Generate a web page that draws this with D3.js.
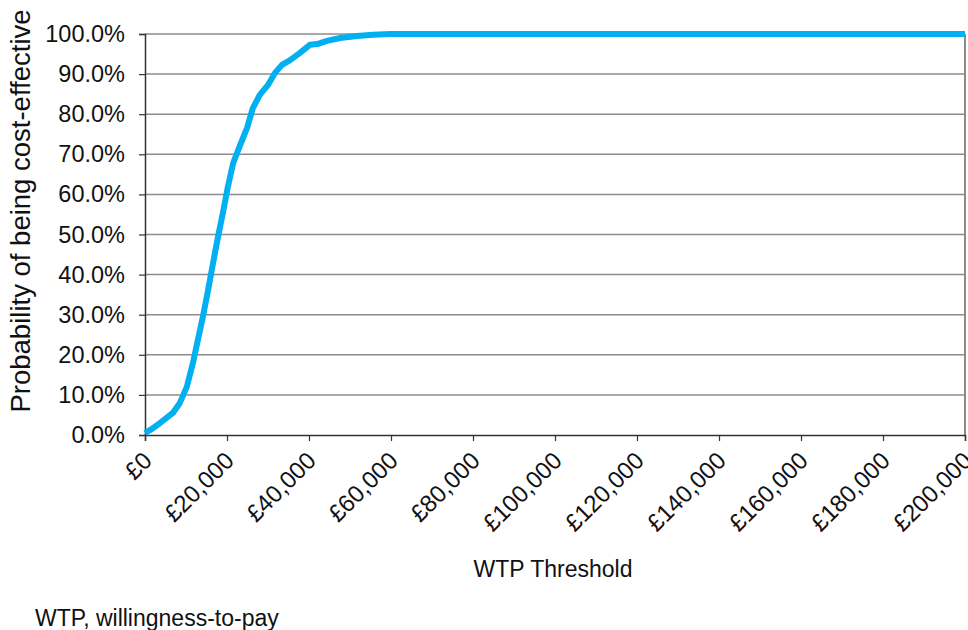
<!DOCTYPE html>
<html>
<head>
<meta charset="utf-8">
<script src="https://cdn.jsdelivr.net/npm/d3@7"></script>
<style>
  body { margin: 0; background: #fff; }
  text { font-family: "Liberation Sans", Arial, sans-serif; fill: #111; }
</style>
</head>
<body>
<svg id="chart"></svg>
<script>
// chart size
var width = 968;
var height = 630;
var plotLeft = 145, plotRight = 965, plotTop = 34, plotBottom = 435;

// data
var wtp = [0, 1200, 3700, 6800, 8500, 10200, 11700, 12900, 14100, 15400, 16600, 17800, 19000,
  20200, 21500, 23200, 24900, 26300, 28000, 30000, 31700, 33400, 35400, 37800, 40200, 42000,
  44400, 47600, 51700, 55600, 59800, 80000, 100000, 120000, 140000, 160000, 180000, 200000];
var prob = [0.5, 1.2, 3.0, 5.5, 8.0, 12.0, 18.0, 23.7, 29.4, 36.2, 42.9, 49.4, 55.4,
  61.8, 67.8, 72.3, 76.6, 81.5, 84.8, 87.3, 90.3, 92.3, 93.5, 95.3, 97.3, 97.5,
  98.3, 99.0, 99.5, 99.8, 100, 100, 100, 100, 100, 100, 100, 100];
var xTicks = [0, 20000, 40000, 60000, 80000, 100000, 120000, 140000, 160000, 180000, 200000];
var yTicks = [0, 10, 20, 30, 40, 50, 60, 70, 80, 90, 100];

var data = wtp.map((d, i) => ({x: d, y: prob[i]}));

var scaleX = d3.scaleLinear().domain([0, 200000]).range([plotLeft, plotRight]);
var scaleY = d3.scaleLinear().domain([0, 100]).range([plotBottom, plotTop]);

var svg = d3.select('#chart')
  .attr('width', width)
  .attr('height', height);

// gridlines
svg.append('g')
  .selectAll('line')
  .data(yTicks.slice(1))
  .enter()
  .append('line')
    .attr('x1', plotLeft)
    .attr('x2', plotRight)
    .attr('y1', d => scaleY(d))
    .attr('y2', d => scaleY(d))
    .attr('stroke', '#8c8c8c')
    .attr('stroke-width', 1.5);

// right border
svg.append('line')
  .attr('x1', plotRight).attr('x2', plotRight)
  .attr('y1', plotTop).attr('y2', plotBottom)
  .attr('stroke', '#8c8c8c')
  .attr('stroke-width', 2);

// y axis
var yAxis = svg.append('g')
  .attr('transform', 'translate(' + plotLeft + ',0)')
  .call(d3.axisLeft(scaleY).tickValues(yTicks).tickSize(6).tickPadding(14)
    .tickFormat(d => d.toFixed(1) + '%'));
yAxis.select('.domain').attr('stroke', '#333').attr('stroke-width', 1.5);
yAxis.selectAll('.tick line').attr('stroke', '#333').attr('stroke-width', 1.2);
yAxis.selectAll('text').style('font-size', '23.5px').attr('fill', '#111')
  .attr('font-family', '"Liberation Sans", Arial, sans-serif');

// x axis
var xAxis = svg.append('g')
  .attr('transform', 'translate(0,' + plotBottom + ')')
  .call(d3.axisBottom(scaleX).tickValues(xTicks).tickSize(6).tickFormat(d => '£' + d3.format(',')(d)));
xAxis.select('.domain').attr('stroke', '#333').attr('stroke-width', 1.5);
xAxis.selectAll('.tick line').attr('stroke', '#333').attr('stroke-width', 1.2);
xAxis.selectAll('text')
  .style('font-size', '24px')
  .attr('fill', '#111')
  .attr('font-family', '"Liberation Sans", Arial, sans-serif')
  .attr('text-anchor', 'end')
  .attr('y', 0)
  .attr('dy', 0)
  .attr('transform', 'translate(8,27) rotate(-45)');

// curve
var line = d3.line()
  .x(d => scaleX(d.x))
  .y(d => scaleY(d.y));

svg.append('path')
  .datum(data)
  .attr('d', line)
  .attr('fill', 'none')
  .attr('stroke', '#00b0f0')
  .attr('stroke-width', 6)
  .attr('stroke-linejoin', 'round');

// axis titles
svg.append('text')
  .attr('transform', 'translate(30,211) rotate(-90)')
  .attr('text-anchor', 'middle')
  .style('font-size', '27.5px')
  .text('Probability of being cost-effective');

svg.append('text')
  .attr('x', 553)
  .attr('y', 577)
  .attr('text-anchor', 'middle')
  .style('font-size', '23px')
  .text('WTP Threshold');

svg.append('text')
  .attr('x', 35)
  .attr('y', 626)
  .style('font-size', '23px')
  .text('WTP, willingness-to-pay');
</script>
</body>
</html>
